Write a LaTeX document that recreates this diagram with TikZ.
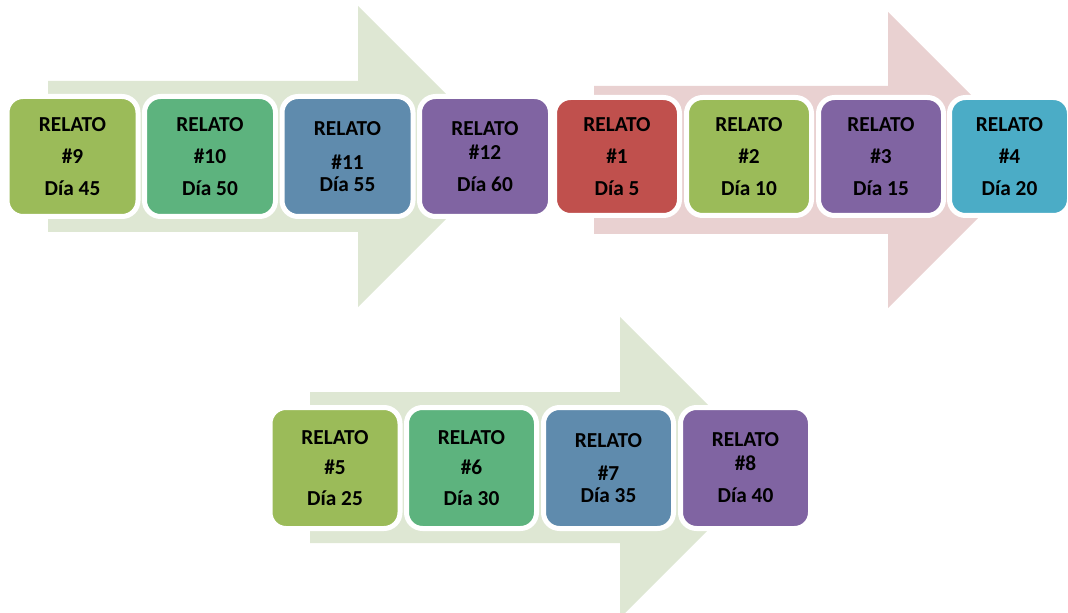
\documentclass[tikz,border=0pt]{standalone}
\usepackage{fontspec}
\setmainfont{Carlito}
\usetikzlibrary{positioning}
\definecolor{olive}{RGB}{155,187,89}
\definecolor{leaf}{RGB}{93,179,126}
\definecolor{steel}{RGB}{95,139,173}
\definecolor{plum}{RGB}{128,100,162}
\definecolor{brick}{RGB}{192,80,77}
\definecolor{aqua}{RGB}{75,172,198}
\definecolor{arrowgreen}{RGB}{222,231,211}
\definecolor{arrowred}{RGB}{233,209,209}
\begin{document}
\begin{tikzpicture}[x=0.75pt,y=-0.75pt,
    relato/.style={draw=white, line width=3.75pt, rounded corners=12pt, inner sep=0pt,
      align=center, font=\bfseries\fontsize{16}{18}\selectfont},
    rowa/.style={relato, minimum width=98.25pt, minimum height=90pt},
    rowb/.style={relato, minimum width=93.75pt, minimum height=88.5pt},
    rowc/.style={relato, minimum width=97.5pt, minimum height=90.75pt}]
    \useasboundingbox (0,0) rectangle (1068,613);
    \clip (0,0) rectangle (1068,613);

% big arrows behind the boxes
\fill[arrowgreen] (48,81) -- (358,81) -- (358,6) -- (508.5,156.5) -- (358,307) -- (358,232) -- (48,232) -- cycle;
\fill[arrowred] (594,86) -- (888,86) -- (888,12) -- (1036,160) -- (888,308) -- (888,234) -- (594,234) -- cycle;
\fill[arrowgreen] (310,392) -- (620,392) -- (620,317) -- (770.5,467.5) -- (620,618) -- (620,543) -- (310,543) -- cycle;

% first row, left
\node[rowa, fill=olive] (r9) at (72.5,156.5) {RELATO\\[6pt]\#9\\[6pt]Día 45};
\node[rowa, fill=leaf] (r10) at (210,156.5) {RELATO\\[6pt]\#10\\[6pt]Día 50};
\node[rowa, fill=steel] (r11) at (347.5,156.5) {RELATO\\[7.5pt]\#11\\[-1.5pt]Día 55};
\node[rowa, fill=plum] (r12) at (485,156.5) {RELATO\\[0pt]\#12\\[6pt]Día 60};

% first row, right
\node[rowb, fill=brick] (r1) at (617,156.5) {RELATO\\[6pt]\#1\\[6pt]Día 5};
\node[rowb, fill=olive] (r2) at (749,156.5) {RELATO\\[6pt]\#2\\[6pt]Día 10};
\node[rowb, fill=plum] (r3) at (881,156.5) {RELATO\\[6pt]\#3\\[6pt]Día 15};
\node[rowb, fill=aqua, minimum width=90pt] (r4) at (1009.5,156.5) {RELATO\\[6pt]\#4\\[6pt]Día 20};

% second row
\node[rowc, fill=olive] (r5) at (335,468) {RELATO\\[5pt]\#5\\[5pt]Día 25};
\node[rowc, fill=leaf] (r6) at (471.5,468) {RELATO\\[5pt]\#6\\[5pt]Día 30};
\node[rowc, fill=steel] (r7) at (608.5,468) {RELATO\\[7pt]\#7\\[-1.5pt]Día 35};
\node[rowc, fill=plum] (r8) at (745.5,468) {RELATO\\[0pt]\#8\\[6pt]Día 40};

\end{tikzpicture}
\end{document}
